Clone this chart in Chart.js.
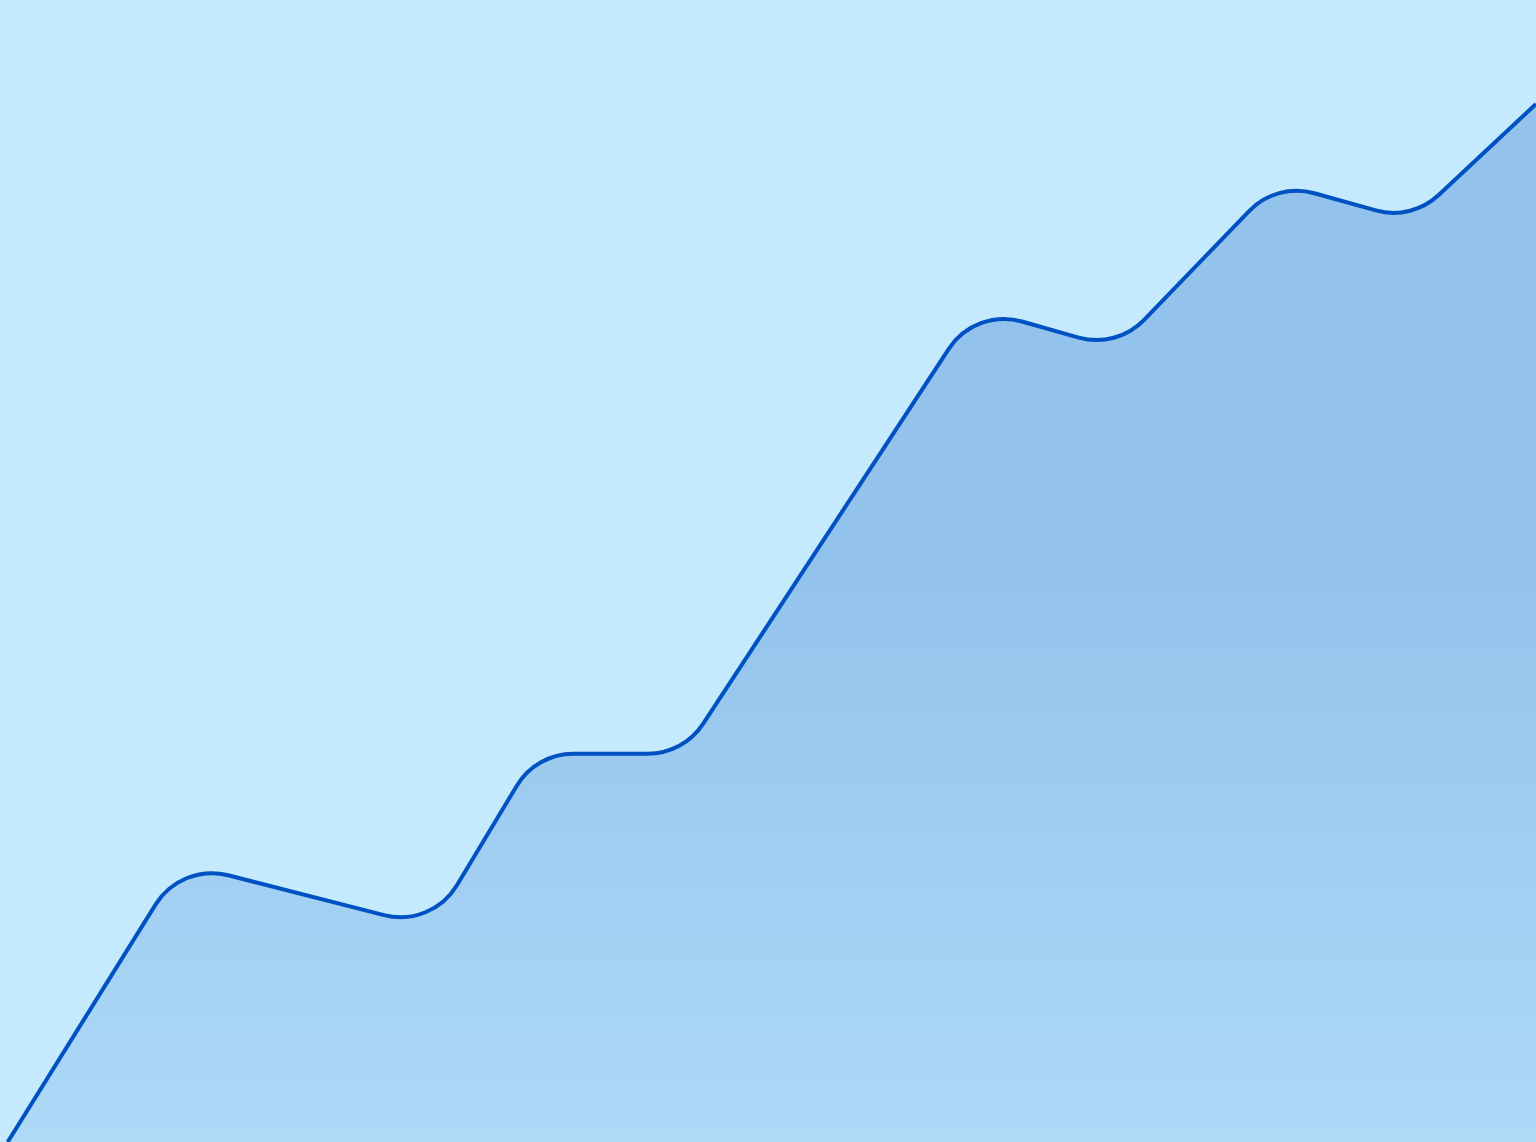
<!DOCTYPE html>
<html>
<head>
<meta charset="utf-8">
<script src="https://cdn.jsdelivr.net/npm/chart.js@4"></script>
<style>
  html, body { margin: 0; padding: 0; background: #c5eafd; overflow: hidden; }
  #wrap { width: 1536px; height: 1142px; position: relative; }
</style>
</head>
<body>
<div id="wrap"><canvas id="myChart"></canvas></div>
<script>
// Data (x position along the period, y level 0-100)
var xValues = [0.5, 11.8, 28.1, 34.9, 44.5, 63.5, 72.7, 83.1, 91.9, 100];
var yValues = [0, 24.4, 18.8, 34.0, 34.0, 73.0, 69.5, 84.0, 80.7, 90.9];

var points = xValues.map(function(x, i) { return { x: x, y: yValues[i] }; });

// draws the series as straight segments with rounded corners, using the positions Chart.js computed
var roundedArea = {
    id: 'roundedArea',
    beforeDatasetsDraw: function(chart) {
        var meta = chart.getDatasetMeta(0);
        var pts = meta.data;
        if (!pts.length) return;
        var ctx = chart.ctx;
        var area = chart.chartArea;
        var r = 66;

        function tracePath() {
            ctx.moveTo(pts[0].x, pts[0].y);
            for (var i = 1; i < pts.length - 1; i++) {
                ctx.arcTo(pts[i].x, pts[i].y, pts[i + 1].x, pts[i + 1].y, r);
            }
            ctx.lineTo(pts[pts.length - 1].x, pts[pts.length - 1].y);
        }

        ctx.save();
        // fill under the line
        var grad = ctx.createLinearGradient(0, area.top, 0, area.bottom);
        grad.addColorStop(0, '#93c3ec');
        grad.addColorStop(0.5, '#93c3ec');
        grad.addColorStop(1, '#aed9f7');
        ctx.beginPath();
        tracePath();
        ctx.lineTo(pts[pts.length - 1].x, area.bottom + 10);
        ctx.lineTo(pts[0].x, area.bottom + 10);
        ctx.closePath();
        ctx.fillStyle = grad;
        ctx.fill();

        // the line itself
        ctx.beginPath();
        tracePath();
        ctx.lineWidth = 4;
        ctx.strokeStyle = '#0052c2';
        ctx.lineJoin = 'round';
        ctx.stroke();
        ctx.restore();
    }
};

var ctx = document.getElementById('myChart').getContext('2d');
var myChart = new Chart(ctx, {
    type: 'line',
    data: {
        datasets: [{
            data: points,
            borderColor: 'rgba(0,0,0,0)',
            borderWidth: 0,
            pointRadius: 0,
            fill: false,
            tension: 0
        }]
    },
    options: {
        responsive: true,
        maintainAspectRatio: false,
        animation: false,
        layout: { padding: 0 },
        plugins: { legend: { display: false }, tooltip: { enabled: false } },
        scales: {
            x: { type: 'linear', min: 0, max: 100, display: false },
            y: { min: 0, max: 100, display: false }
        }
    },
    plugins: [roundedArea]
});
</script>
</body>
</html>
